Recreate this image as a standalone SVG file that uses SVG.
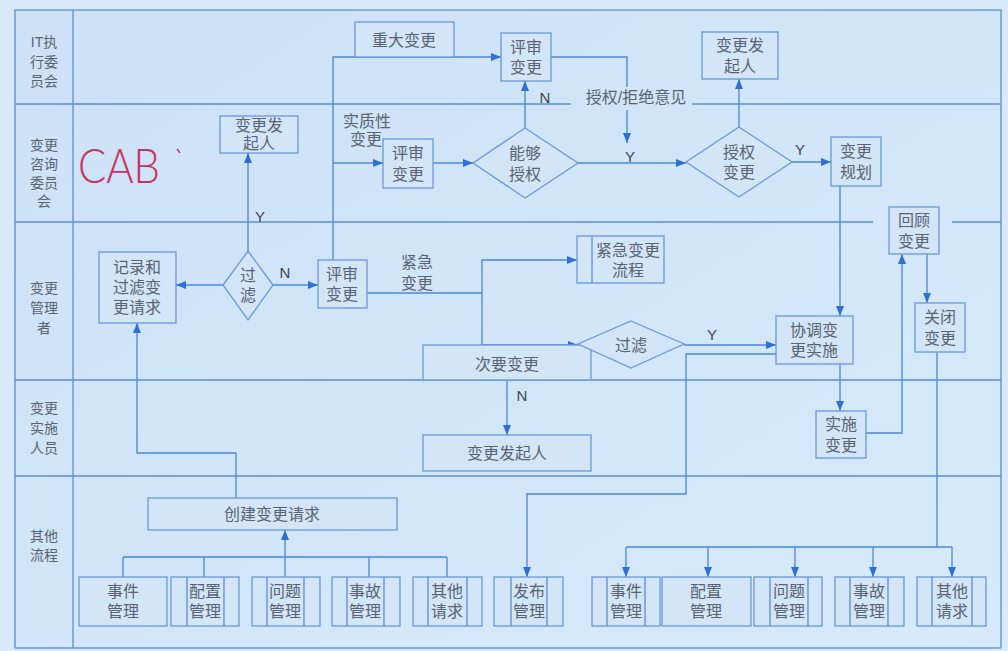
<svg xmlns="http://www.w3.org/2000/svg" width="1008" height="651" viewBox="0 0 1008 651">
<defs>
<marker id="a" viewBox="0 0 10 8" refX="10" refY="4" markerWidth="10" markerHeight="8" orient="auto" markerUnits="userSpaceOnUse"><path d="M0,0 L10,4 L0,8 z" fill="#2f6fd6"/></marker>
<linearGradient id="bg" x1="0" y1="0" x2="1" y2="1"><stop offset="0" stop-color="#cde2f7"/><stop offset="1" stop-color="#d5eafa"/></linearGradient>
</defs>
<style>
.ln{stroke:#5b8ed8;stroke-width:1.3;fill:none}
.c{stroke:#4f86d8;stroke-width:1.3;fill:none}
.ar{marker-end:url(#a)}
.box{fill:#d2e6f8;stroke:#6b98d8;stroke-width:1.3}
.t{font-family:"Liberation Sans","Noto Sans CJK SC",sans-serif;font-size:16px;fill:#5a6372;text-anchor:middle;dominant-baseline:central}
.lt{font-family:"Liberation Sans","Noto Sans CJK SC",sans-serif;font-size:14px;fill:#5a6372;text-anchor:middle;dominant-baseline:central}
.yn{font-family:"Liberation Sans","Noto Sans CJK SC",sans-serif;font-size:15px;fill:#3f4650;text-anchor:middle;dominant-baseline:central}
</style>
<rect x="0" y="0" width="1008" height="651" fill="#d9ebfa"/>
<rect x="15" y="10" width="986" height="638" fill="url(#bg)"/>
<g id="lanes">
<rect x="15" y="10" width="986" height="638" class="ln"/>
<line x1="73" y1="10" x2="73" y2="648" class="ln"/>
<line x1="15" y1="104" x2="571" y2="104" class="ln"/>
<line x1="692" y1="104" x2="1001" y2="104" class="ln"/>
<line x1="15" y1="222" x2="873" y2="222" class="ln"/>
<line x1="952" y1="222" x2="1001" y2="222" class="ln"/>
<line x1="15" y1="380" x2="1001" y2="380" class="ln"/>
<line x1="15" y1="476" x2="1001" y2="476" class="ln"/>
<text class="lt" x="44" y="42">IT执</text><text class="lt" x="44" y="62">行委</text><text class="lt" x="44" y="81">员会</text>
<text class="lt" x="44" y="145">变更</text><text class="lt" x="44" y="164">咨询</text><text class="lt" x="44" y="183">委员</text><text class="lt" x="44" y="201">会</text>
<text class="lt" x="44" y="288">变更</text><text class="lt" x="44" y="308">管理</text><text class="lt" x="44" y="328">者</text>
<text class="lt" x="44" y="408">变更</text><text class="lt" x="44" y="428">实施</text><text class="lt" x="44" y="448">人员</text>
<text class="lt" x="44" y="536">其他</text><text class="lt" x="44" y="555">流程</text>
</g>
<g id="cab">
<text x="78" y="183" font-family="Lato, 'Liberation Sans', sans-serif" font-weight="300" font-size="48" textLength="82" lengthAdjust="spacingAndGlyphs" fill="#c8335e">CAB</text>
<path d="M177,149 L180,153" stroke="#c8335e" stroke-width="1.5" fill="none"/>
</g>
<g id="connectors">
<path class="c ar" d="M223,285 H176"/>
<path class="c ar" d="M273,285 H318"/>
<path class="c ar" d="M248,251 V153"/>
<path class="c ar" d="M333,260 V57 H501"/>
<path class="c ar" d="M333,163 H383"/>
<path class="c ar" d="M433,163 H473"/>
<path class="c ar" d="M525,128 V81"/>
<path class="c" d="M551,57 H627 V87"/>
<path class="c ar" d="M627,110 V143"/>
<path class="c ar" d="M578,163 H686"/>
<path class="c ar" d="M739,127 V79"/>
<path class="c ar" d="M792,162 H831"/>
<path class="c ar" d="M840,186 V316"/>
<path class="c ar" d="M840,364 V411"/>
<path class="c ar" d="M866,433 H902 V254"/>
<path class="c ar" d="M927,254 V303"/>
<path class="c" d="M937,352 V547 M626,547 H952"/>
<path class="c ar" d="M626,547 V577"/>
<path class="c ar" d="M708,547 V577"/>
<path class="c ar" d="M795,547 V577"/>
<path class="c ar" d="M873,547 V577"/>
<path class="c ar" d="M952,547 V577"/>
<path class="c ar" d="M367,293 H482 V345 H578"/>
<path class="c ar" d="M482,293 V260 H577"/>
<path class="c ar" d="M684,345 H776"/>
<path class="c ar" d="M507,380 V435"/>
<path class="c ar" d="M776,354 H686 V494 H527 V577"/>
<path class="c ar" d="M236,498 V453 H137 V323"/>
<path class="c" d="M123,557 H447 M123,557 V577 M204,557 V577 M285,557 V577 M369,557 V577 M447,557 V577"/>
<path class="c ar" d="M285,557 V530"/>
<text class="yn" x="260" y="216">Y</text>
<text class="yn" x="285" y="272">N</text>
<text class="yn" x="545" y="97">N</text>
<text class="t" x="636" y="97" font-size="17">授权/拒绝意见</text>
<text class="yn" x="630" y="156">Y</text>
<text class="yn" x="800" y="149">Y</text>
<text class="t" x="367" y="121">实质性</text>
<text class="t" x="366" y="139">变更</text>
<text class="t" x="417" y="262">紧急</text>
<text class="t" x="417" y="283">变更</text>
<text class="yn" x="712" y="334">Y</text>
<text class="yn" x="522" y="395">N</text>
</g>
<g id="n-zhongda"><rect class="box" x="355" y="22" width="99" height="35"/><text class="t" x="404" y="40">重大变更</text></g>
<g id="n-pingshen1"><rect class="box" x="501" y="33" width="50" height="48"/><text class="t" x="526" y="47">评审</text><text class="t" x="526" y="67">变更</text></g>
<g id="n-faqiren1"><rect class="box" x="702" y="32" width="76" height="47"/><text class="t" x="740" y="45">变更发</text><text class="t" x="740" y="66">起人</text></g>
<g id="n-faqiren2"><rect class="box" x="220" y="116" width="78" height="37"/><text class="t" x="259" y="125">变更发</text><text class="t" x="259" y="143">起人</text></g>
<g id="n-pingshen2"><rect class="box" x="383" y="139" width="50" height="49"/><text class="t" x="408" y="153">评审</text><text class="t" x="408" y="174">变更</text></g>
<g id="n-nenggou"><polygon class="box" points="525,128 578,163 525,198 473,163"/><text class="t" x="525" y="153">能够</text><text class="t" x="525" y="174">授权</text></g>
<g id="n-shouquan"><polygon class="box" points="739,127 792,162 739,197 686,162"/><text class="t" x="739" y="152">授权</text><text class="t" x="739" y="172">变更</text></g>
<g id="n-guihua"><rect class="box" x="831" y="137" width="50" height="49"/><text class="t" x="856" y="151">变更</text><text class="t" x="856" y="172">规划</text></g>
<g id="n-jilu"><rect class="box" x="99" y="252" width="77" height="71"/><text class="t" x="137" y="267">记录和</text><text class="t" x="137" y="287">过滤变</text><text class="t" x="137" y="307">更请求</text></g>
<g id="n-guolv1"><polygon class="box" points="248,251 273,285 248,320 223,285"/><text class="t" x="248" y="275">过</text><text class="t" x="248" y="295">滤</text></g>
<g id="n-pingshen3"><rect class="box" x="318" y="260" width="49" height="48"/><text class="t" x="342" y="274">评审</text><text class="t" x="342" y="294">变更</text></g>
<g id="n-jinji"><rect class="box" x="577" y="236" width="87" height="47"/><line x1="592" y1="236" x2="592" y2="283" class="ln"/><text class="t" x="628" y="250">紧急变更</text><text class="t" x="628" y="270">流程</text></g>
<g id="n-ciyao"><rect class="box" x="423" y="345" width="168" height="35"/><text class="t" x="507" y="364">次要变更</text></g>
<g id="n-guolv2"><polygon class="box" points="631,321 684,344 631,368 578,344"/><text class="t" x="631" y="345">过滤</text></g>
<g id="n-xietiao"><rect class="box" x="776" y="316" width="77" height="48"/><text class="t" x="814" y="330">协调变</text><text class="t" x="814" y="350">更实施</text></g>
<g id="n-huigu"><rect class="box" x="889" y="207" width="50" height="47"/><text class="t" x="914" y="220">回顾</text><text class="t" x="914" y="241">变更</text></g>
<g id="n-guanbi"><rect class="box" x="915" y="303" width="50" height="49"/><text class="t" x="940" y="317">关闭</text><text class="t" x="940" y="338">变更</text></g>
<g id="n-faqiren3"><rect class="box" x="423" y="435" width="168" height="36"/><text class="t" x="507" y="453">变更发起人</text></g>
<g id="n-shishi"><rect class="box" x="816" y="411" width="50" height="47"/><text class="t" x="841" y="424">实施</text><text class="t" x="841" y="445">变更</text></g>
<g id="n-chuangjian"><rect class="box" x="148" y="498" width="249" height="32"/><text class="t" x="272" y="514">创建变更请求</text></g>
<g id="n-l-shijian"><rect class="box" x="79" y="577" width="88" height="49"/><text class="t" x="123" y="591">事件</text><text class="t" x="123" y="611">管理</text></g>
<g id="n-l-peizhi"><rect class="box" x="171" y="577" width="68" height="49"/><path class="ln" d="M187,577V626M224,577V626"/><text class="t" x="205" y="591">配置</text><text class="t" x="205" y="611">管理</text></g>
<g id="n-l-wenti"><rect class="box" x="252" y="577" width="68" height="49"/><path class="ln" d="M267,577V626M304,577V626"/><text class="t" x="285" y="591">问题</text><text class="t" x="285" y="611">管理</text></g>
<g id="n-l-shigu"><rect class="box" x="332" y="577" width="68" height="49"/><path class="ln" d="M347,577V626M384,577V626"/><text class="t" x="365" y="591">事故</text><text class="t" x="365" y="611">管理</text></g>
<g id="n-l-qita"><rect class="box" x="413" y="577" width="69" height="49"/><path class="ln" d="M428,577V626M467,577V626"/><text class="t" x="447" y="591">其他</text><text class="t" x="447" y="611">请求</text></g>
<g id="n-fabu"><rect class="box" x="494" y="577" width="69" height="49"/><path class="ln" d="M511,577V626M547,577V626"/><text class="t" x="529" y="591">发布</text><text class="t" x="529" y="611">管理</text></g>
<g id="n-r-shijian"><rect class="box" x="592" y="577" width="68" height="49"/><path class="ln" d="M607,577V626M645,577V626"/><text class="t" x="626" y="591">事件</text><text class="t" x="626" y="611">管理</text></g>
<g id="n-r-peizhi"><rect class="box" x="662" y="577" width="89" height="49"/><text class="t" x="706" y="591">配置</text><text class="t" x="706" y="611">管理</text></g>
<g id="n-r-wenti"><rect class="box" x="754" y="577" width="68" height="49"/><path class="ln" d="M770,577V626M808,577V626"/><text class="t" x="789" y="591">问题</text><text class="t" x="789" y="611">管理</text></g>
<g id="n-r-shigu"><rect class="box" x="835" y="577" width="69" height="49"/><path class="ln" d="M850,577V626M888,577V626"/><text class="t" x="869" y="591">事故</text><text class="t" x="869" y="611">管理</text></g>
<g id="n-r-qita"><rect class="box" x="917" y="577" width="69" height="49"/><path class="ln" d="M932,577V626M972,577V626"/><text class="t" x="952" y="591">其他</text><text class="t" x="952" y="611">请求</text></g>
</svg>
